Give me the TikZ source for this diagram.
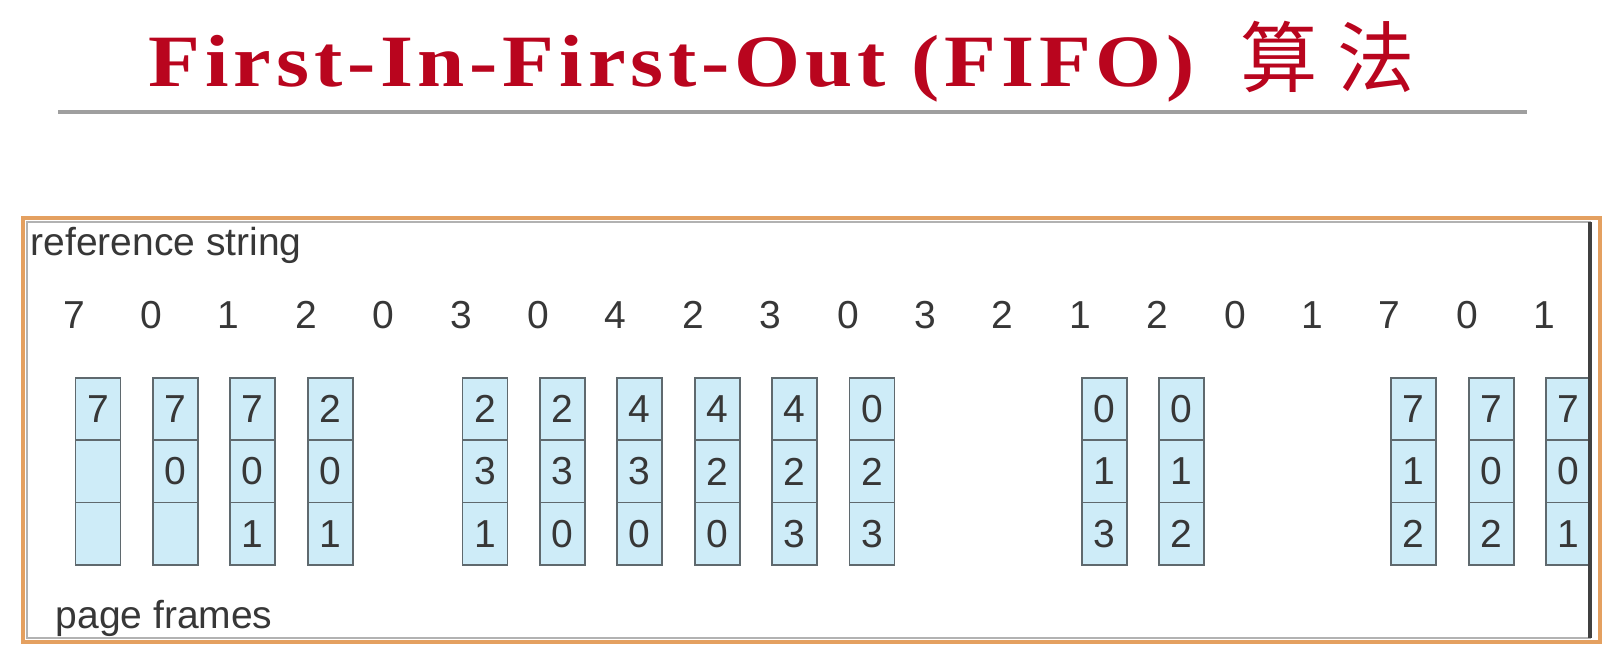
\documentclass[tikz,border=0pt]{standalone}
\usepackage{fontspec}
\setmainfont{Liberation Sans}
\newfontfamily\titlefont[FakeStretch=1.15, LetterSpace=6.5]{Liberation Serif}
\newfontfamily\cjk{Noto Sans CJK SC}
\usetikzlibrary{positioning}

\definecolor{titlered}{RGB}{185,5,30}
\definecolor{digitgray}{RGB}{55,55,55}
\definecolor{cellblue}{RGB}{206,236,248}
\definecolor{cellline}{RGB}{95,105,110}
\definecolor{frameorange}{RGB}{228,160,96}

\begin{document}
\begin{tikzpicture}

\tikzstyle{title}=[inner sep=0pt, anchor=base west, text=titlered]
\tikzstyle{label}=[inner sep=0pt, anchor=base west, text=digitgray, font=\fontsize{11.1pt}{13pt}\selectfont]
\tikzstyle{refnum}=[inner sep=0pt, anchor=base, text=digitgray, font=\fontsize{11.1pt}{13pt}\selectfont]
\tikzstyle{cell}=[rectangle, draw=cellline, fill=cellblue, line width=0.5pt, outer sep=0pt, inner sep=0pt, minimum width=0.45cm, minimum height=0.623cm, text=digitgray, font=\fontsize{11.1pt}{13pt}\selectfont]

\useasboundingbox (0,0) rectangle (16.1,6.6);

% heading
\node (head) [title, font=\titlefont\bfseries\fontsize{21pt}{25pt}\selectfont] at (1.48,5.74) {First-In-First-Out (FIFO)};
\node (headcjk) [title, font=\cjk\fontsize{22pt}{26pt}\selectfont] at (12.40,5.74) {算\hspace{0.2cm}法};
\draw [gray!75, line width=0.9pt] (0.58,5.48) -- (15.27,5.48);

% outer frame
\draw [frameorange, line width=1.1pt] (0.23,0.18) rectangle (16.0,4.42);
\draw [gray!60, line width=0.3pt] (0.27,0.22) rectangle (15.9,4.38);

\node (refstr) [label] at (0.30,4.05) {reference string};
\node (pagefr) [label] at (0.55,0.32) {page frames};

% reference string
\foreach \r [count=\i from 0] in {7,0,1,2,0,3,0,4,2,3,0,3,2,1,2,0,1,7,0,1}
  \node (r\i) [refnum] at (0.74+0.774*\i, 3.32) {\r};

% page frames
\foreach \i/\a/\b/\c in {0/7/{}/{}, 1/7/0/{}, 2/7/0/1, 3/2/0/1, 5/2/3/1, 6/2/3/0, 7/4/3/0, 8/4/2/0, 9/4/2/3, 10/0/2/3, 13/0/1/3, 14/0/1/2, 17/7/1/2, 18/7/0/2, 19/7/0/1}
{
  \node (f\i-top) [cell] at (0.98+0.774*\i, 2.5085) {\a};
  \node (f\i-mid) [cell, below=0pt of f\i-top] {\b};
  \node (f\i-bot) [cell, below=0pt of f\i-mid] {\c};
}

\draw [darkgray, line width=1pt] (15.9,0.22) -- (15.9,4.38);

\end{tikzpicture}
\end{document}
